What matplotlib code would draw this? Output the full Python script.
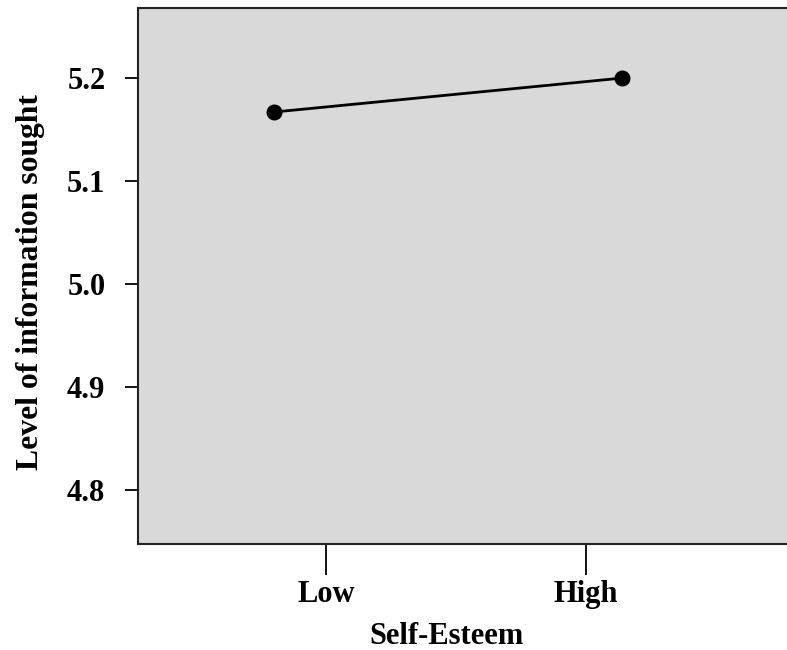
import matplotlib
matplotlib.use("Agg")
import matplotlib.pyplot as plt

# Data
categories = ["Low", "High"]
tick_positions = [1, 2]
point_positions = [0.80, 2.14]
info_sought = [5.167, 5.200]
y_ticks = [4.8, 4.9, 5.0, 5.1, 5.2]
y_tick_labels = ["4.8", "4.9", "5.0", "5.1", "5.2"]

plt.rcParams['font.family'] = ['Liberation Serif', 'DejaVu Serif']
plt.rcParams['font.weight'] = 'bold'

fig = plt.figure(figsize=(7.87, 6.5), dpi=100)
ax = fig.add_axes([138/787, 106/650, 649/787, (544-8)/650])
ax.set_facecolor('#d9d9d9')

ax.plot(point_positions, info_sought, color='black', lw=2.0, marker='o',
        markersize=10.5, markerfacecolor='black', markeredgecolor='black', zorder=3)

ax.set_xlim(0.277, 2.773)
ax.set_ylim(4.7476, 5.268)

ax.set_xticks(tick_positions)
ax.set_xticklabels(categories, fontsize=22, fontweight='bold')
ax.set_yticks(y_ticks)
ax.set_yticklabels(y_tick_labels, fontsize=22, fontweight='bold')

ax.tick_params(axis='x', length=22, width=1.3, pad=4, colors='black')
ax.tick_params(axis='y', length=9.5, width=1.3, pad=14, colors='black')

for s in ['left', 'bottom', 'top']:
    ax.spines[s].set_linewidth(1.5)
    ax.spines[s].set_color('#222222')
ax.spines['right'].set_visible(False)

ax.set_ylabel("Level of information sought", fontsize=22.8, fontweight='bold')
ax.yaxis.set_label_coords(-0.1433, (544 - 282) / 536)
fig.text(447/787, 1 - 636/650, "Self-Esteem", fontsize=22, fontweight='bold',
         ha='center', va='center')

fig.savefig("out.png", dpi=100)
